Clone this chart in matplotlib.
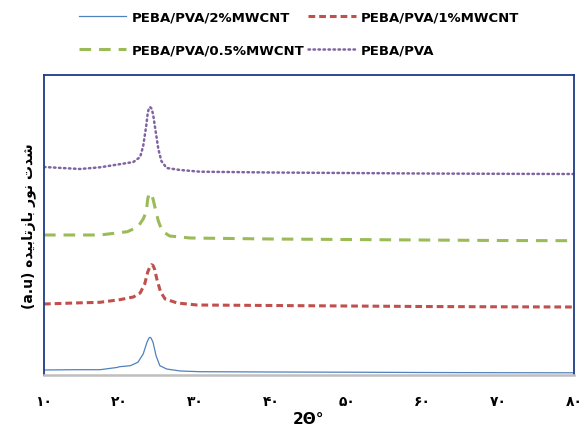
import matplotlib.pyplot as plt
import numpy as np

# XRD patterns, intensity in arbitrary units (curves are offset vertically)
tt_2 = [10, 14, 17.4, 19.6, 20.0, 21.4, 22.4, 23.1, 23.6, 23.85, 24.0, 24.15, 24.4, 24.8, 25.3, 26.2, 28.0, 30.6, 40, 50, 60, 70, 80]
i_2 = [5, 5.3, 5.3, 7.5, 8.3, 9.3, 12.7, 21, 32.7, 36.8, 37.7, 36.8, 32.7, 19.3, 9.3, 6, 4, 3.3, 3, 2.8, 2.5, 2.3, 2.2]

tt_1 = [10, 14, 17.4, 20.0, 21.8, 22.7, 23.3, 23.7, 24.0, 24.2, 24.4, 24.6, 24.9, 25.4, 26.0, 27.6, 30.2, 40, 50, 60, 70, 80]
i_1 = [71, 72, 72.7, 75.3, 78, 82, 91, 103, 108.5, 110.3, 109.5, 106, 96, 83, 76, 72, 70, 69.5, 69, 68.5, 68.2, 68]

tt_05 = [10, 14, 17.4, 21.0, 22.4, 23.1, 23.5, 23.7, 23.85, 24.0, 24.2, 24.4, 24.8, 25.1, 25.6, 26.6, 29.3, 40, 50, 60, 70, 80]
i_05 = [140, 140, 140, 143.3, 148, 156, 163, 176, 180.5, 182, 180.5, 176, 163, 154, 144, 139, 137, 136, 135.5, 135, 134.5, 134.3]

tt_0 = [10, 14.75, 17.4, 21.0, 21.8, 22.7, 23.1, 23.5, 23.7, 23.85, 24.0, 24.2, 24.4, 24.7, 25.1, 25.5, 26.2, 28.0, 30.6, 40, 50, 60, 70, 80]
i_0 = [208, 206, 207.7, 212, 213, 218, 229, 249, 262, 266.5, 268, 266.5, 261, 246, 226, 214, 207, 205, 203.3, 202.5, 202, 201.5, 201.2, 201]

labels = ['PEBA/PVA/2%MWCNT', 'PEBA/PVA/1%MWCNT', 'PEBA/PVA/0.5%MWCNT', 'PEBA/PVA']
xticks = [10, 20, 30, 40, 50, 60, 70, 80]
fa_digits = '۰۱۲۳۴۵۶۷۸۹'

def to_fa(n):
    return ''.join(fa_digits[int(c)] for c in str(n))

fig = plt.figure(figsize=(5.83, 4.35), dpi=100)
ax = fig.add_axes([44/583, 1 - 376/435, 530/583, 300/435])

l2, = ax.plot(tt_2, i_2, color='#4F81BD', lw=0.9, label=labels[0])
l1, = ax.plot(tt_1, i_1, color='#C0504D', lw=2.2, ls=(0, (2.2, 1.3)), label=labels[1])
l05, = ax.plot(tt_05, i_05, color='#9BBB59', lw=2.2, ls=(0, (3.8, 2.6)), label=labels[2])
l0, = ax.plot(tt_0, i_0, color='#8064A2', lw=1.8, ls=(0, (0.6, 1.4)), dash_capstyle='round', label=labels[3])

ax.set_xlim(10, 80)
ax.set_ylim(0, 300)
ax.set_yticks([])
ax.set_xticks(xticks)
ax.set_xticklabels([to_fa(v) for v in xticks], fontsize=10, fontweight='bold')
ax.tick_params(axis='x', length=0, pad=14)

for s in ['left', 'top', 'right']:
    ax.spines[s].set_color('#1F3C88')
    ax.spines[s].set_linewidth(1.3)
ax.spines['bottom'].set_color('#BFBFBF')
ax.spines['bottom'].set_linewidth(1.8)

ax.set_xlabel('2Θ°', fontsize=11, fontweight='bold', labelpad=2)
# Persian label, glyphs in visual order with presentation forms
ax.set_ylabel('(a.u) ﻩﺪﻴﺑﺎﺗﺯﺎﺑ ﺭﻮﻧ ﺕﺪﺷ', fontsize=10, fontweight='bold', labelpad=6)

fig.legend([l2, l05, l1, l0], [labels[0], labels[2], labels[1], labels[3]],
           ncol=2, loc='upper left', bbox_to_anchor=(67/583, 1.0), frameon=False,
           prop={'size': 9.5, 'weight': 'bold'}, handlelength=3.6, handletextpad=0.4,
           columnspacing=0.3, labelspacing=1.5)

fig.savefig('out.png', dpi=100)
